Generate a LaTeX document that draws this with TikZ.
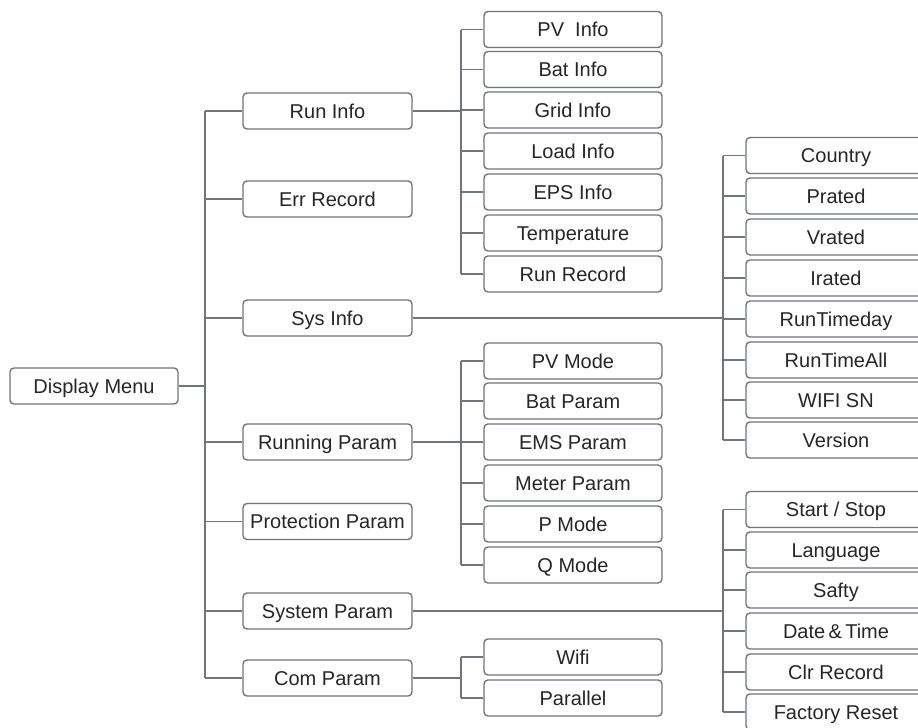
\documentclass[tikz,border=0pt]{standalone}
\usepackage{fontspec}
\setmainfont{Liberation Sans}
\usepackage{xcolor}
\definecolor{wire}{RGB}{112,118,126}
\definecolor{ink}{RGB}{38,38,38}

\tikzset{
  menubox/.style={draw=wire, fill=white, line width=0.7pt, rounded corners=2pt,
                  minimum height=18pt, inner sep=0pt, text=ink,
                  text height=7.2pt, text depth=0pt},
  lvlone/.style={menubox, minimum width=84.5pt},
  lvltwo/.style={menubox, minimum width=89pt},
  lvlthree/.style={menubox, minimum width=90pt},
  link/.style={draw=wire, line width=0.7pt}
}

\begin{document}
\begin{tikzpicture}[x=0.5pt, y=-0.5pt, font=\fontsize{10}{12}\selectfont]
  \useasboundingbox[fill=white] (0,0) rectangle (918,728);
  % root
  \node[menubox, minimum width=84pt] (menu) at (94,386) {Display Menu};
  % first level
  \foreach \y/\name/\lab in {111/runinfo/Run Info, 199/errrec/Err Record,
      318/sysinfo/Sys Info, 442/runparam/Running Param,
      521.5/protparam/Protection Param, 611/sysparam/System Param,
      678/comparam/Com Param} {
    \node[lvlone] (\name) at (327.5,\y) {\lab};
  }
  % run info entries
  \foreach \y/\name/\lab in {29.5/pvinfo/PV~~Info, 69.5/batinfo/Bat Info,
      110/gridinfo/Grid Info, 151/loadinfo/Load Info, 192/epsinfo/EPS Info,
      233/tempinfo/Temperature, 274/runrec/Run Record} {
    \node[lvltwo] (\name) at (573,\y) {\lab};
  }
  % running param entries
  \foreach \y/\name/\lab in {361/pvmode/PV Mode, 401/batparam/Bat Param,
      442/emsparam/EMS Param, 483/meterparam/Meter Param,
      524/pmode/P Mode, 565/qmode/Q Mode} {
    \node[lvltwo] (\name) at (573,\y) {\lab};
  }
  % com param entries
  \foreach \y/\name/\lab in {657/wifi/Wifi, 698/parallel/Parallel} {
    \node[lvltwo] (\name) at (573,\y) {\lab};
  }
  % sys info entries
  \foreach \y/\name/\lab in {155.5/country/Country, 196/prated/Prated,
      237/vrated/Vrated, 278/irated/Irated, 319/rtday/RunTimeday,
      360/rtall/RunTimeAll, 400/wifisn/WIFI SN, 440/version/Version} {
    \node[lvlthree] (\name) at (836,\y) {\lab};
  }
  % system param entries
  \foreach \y/\name/\lab in {509.5/startstop/{Start / Stop}, 550/language/Language,
      590/safty/Safty, 631/datetime/Date\,\&\,Time, 672/clrrec/Clr Record,
      712/facreset/Factory Reset} {
    \node[lvlthree] (\name) at (836,\y) {\lab};
  }

  % trunk from the root
  \coordinate (trunk) at (205,386);
  \draw[link] (menu.east) -- (trunk);
  \draw[link] (trunk |- runinfo) -- (trunk |- comparam);
  \foreach \name in {runinfo, errrec, sysinfo, runparam, protparam, sysparam, comparam}
    \draw[link] (trunk |- \name) -- (\name.west);

  % run info fork
  \coordinate (runfork) at (461,111);
  \draw[link] (runinfo.east) -- (runfork);
  \draw[link] (runfork |- pvinfo) -- (runfork |- runrec);
  \foreach \name in {pvinfo, batinfo, gridinfo, loadinfo, epsinfo, tempinfo, runrec}
    \draw[link] (runfork |- \name) -- (\name.west);

  % running param fork
  \coordinate (parfork) at (461,442);
  \draw[link] (runparam.east) -- (parfork);
  \draw[link] (parfork |- pvmode) -- (parfork |- qmode);
  \foreach \name in {pvmode, batparam, emsparam, meterparam, pmode, qmode}
    \draw[link] (parfork |- \name) -- (\name.west);

  % com param fork
  \coordinate (comfork) at (461,678);
  \draw[link] (comparam.east) -- (comfork);
  \draw[link] (comfork |- wifi) -- (comfork |- parallel);
  \foreach \name in {wifi, parallel}
    \draw[link] (comfork |- \name) -- (\name.west);

  % sys info fork
  \coordinate (sysfork) at (723,318);
  \draw[link] (sysinfo.east) -- (sysfork);
  \draw[link] (sysfork |- country) -- (sysfork |- version);
  \foreach \name in {country, prated, vrated, irated, rtday, rtall, wifisn, version}
    \draw[link] (sysfork |- \name) -- (\name.west);

  % system param fork
  \coordinate (setfork) at (723,611);
  \draw[link] (sysparam.east) -- (setfork);
  \draw[link] (setfork |- startstop) -- (setfork |- facreset);
  \foreach \name in {startstop, language, safty, datetime, clrrec, facreset}
    \draw[link] (setfork |- \name) -- (\name.west);
\end{tikzpicture}
\end{document}
